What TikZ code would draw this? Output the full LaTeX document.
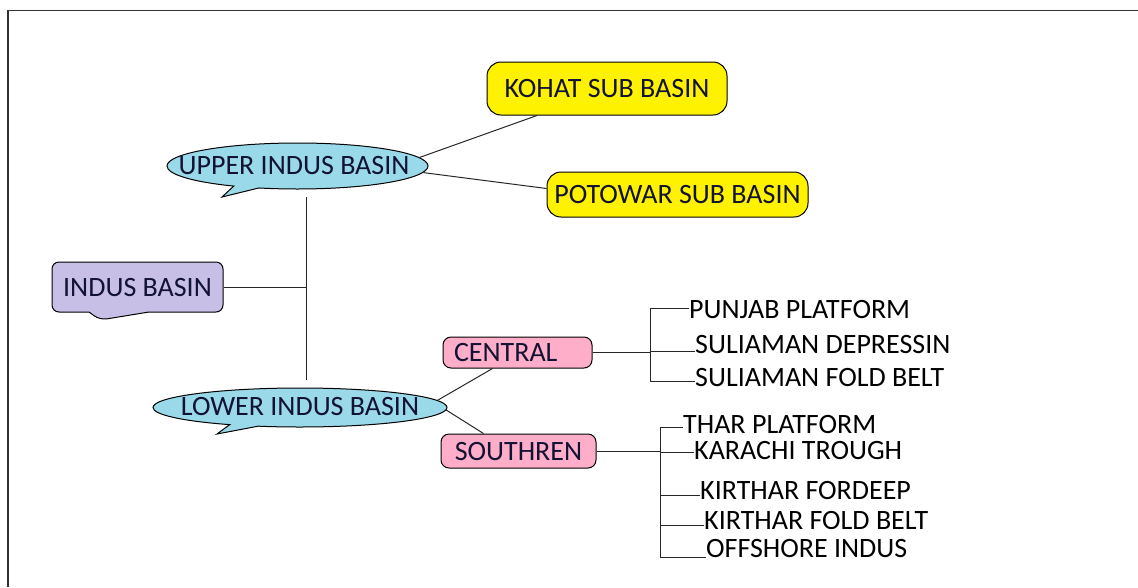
\documentclass[tikz,border=0pt]{standalone}
\usepackage{fontspec}
\setmainfont{Carlito}
\usetikzlibrary{shapes.callouts,calc}
\definecolor{subyellow}{HTML}{FFF200}
\definecolor{basinblue}{HTML}{99D9EA}
\definecolor{rootlilac}{HTML}{C8BFE7}
\definecolor{regionpink}{HTML}{FFAEC9}
\definecolor{boxtext}{RGB}{18,18,50}
\begin{document}
\begin{tikzpicture}[x=1pt,y=-1pt,
  every node/.style={font=\fontsize{28}{30}\selectfont, text height=18pt, text depth=0pt},
  outline/.style={draw=black, line width=1pt, text=boxtext, inner sep=0pt},
  subbox/.style={outline, fill=subyellow, rounded corners=14pt},
  regionbox/.style={outline, fill=regionpink, rounded corners=8pt},
  basincallout/.style={outline, ellipse callout, fill=basinblue, callout pointer arc=12},
  caption/.style={text=boxtext, inner sep=0pt},
  leaf/.style={anchor=west, inner sep=0pt, text=black},
  link/.style={line width=1pt, black!85}]
\useasboundingbox (0,0) rectangle (1138,587);
% frame
\draw[line width=1.5pt, black!80] (8,587) -- (8,10.5) -- (1138,10.5);

% root and basins
\node[outline, rectangle callout, fill=rootlilac, rounded corners=7pt,
      minimum width=171pt, minimum height=50pt,
      callout absolute pointer={(100,320)}, callout pointer width=60pt]
      (indus) at (137.5,287) {INDUS BASIN};
\node[basincallout, minimum width=261pt, minimum height=46pt,
      callout absolute pointer={(222,197)}]
      (upper) at (297.5,166) {};
\node[caption] (uppertext) at (294,165) {UPPER INDUS BASIN};
\node[basincallout, minimum width=294pt, minimum height=39pt,
      callout absolute pointer={(217,434)}]
      (lower) at (300,407.5) {};
\node[caption] (lowertext) at (300,406) {LOWER INDUS BASIN};

% sub basins
\node[subbox, minimum width=240pt, minimum height=53pt] (kohat) at (607,88.5) {KOHAT SUB BASIN};
\node[subbox, minimum width=261pt, minimum height=45pt] (potowar) at (677.5,194.5) {POTOWAR SUB BASIN};

% regions
\node[regionbox, minimum height=31pt, text width=127pt, align=left, inner xsep=11pt]
      (central) at (517.5,352.5) {CENTRAL};
\node[regionbox, minimum width=155pt, minimum height=34pt] (southren) at (518.5,451) {SOUTHREN};

% structural units
\node[leaf] (punjab)   at (689,309.5) {PUNJAB PLATFORM};
\node[leaf] (suldep)   at (695,344)   {SULIAMAN DEPRESSIN};
\node[leaf] (sulfold)  at (695,377)   {SULIAMAN FOLD BELT};
\node[leaf] (thar)     at (683,424)   {THAR PLATFORM};
\node[leaf] (karachi)  at (694,450.5) {KARACHI TROUGH};
\node[leaf] (kfordeep) at (700,490)   {KIRTHAR FORDEEP};
\node[leaf] (kfold)    at (704,520.5) {KIRTHAR FOLD BELT};
\node[leaf] (offshore) at (706,548.5) {OFFSHORE INDUS};

% trunk joining the basins
\coordinate (vtop) at (306,197);
\coordinate (vmid) at (306,287);
\coordinate (vbot) at (306,380);
\draw[link] (vtop) -- (vbot);
\draw[link] (indus.east) -- (vmid);

% upper basin links
\draw[link] (upper.4.3) -- ($(kohat.south)+(-70,0)$);
\draw[link] (upper.-3) -- ($(potowar.west)+(0,-6)$);

% lower basin links
\draw[link] (lower.3) -- ($(central.south)+(-25,0)$);
\draw[link] (lower.-1) -- ($(southren.north)+(-35,0)$);

% central branches
\coordinate (cbus) at (650,352.5);
\draw[link] (central.east) -- (cbus);
\draw[link] (cbus) |- ($(punjab.west)+(0,-1)$);
\draw[link] (cbus) |- ($(suldep.west)+(0,7)$);
\draw[link] (cbus) |- ($(sulfold.west)+(0,4)$);

% southern branches
\coordinate (sbus) at (660,451);
\draw[link] (southren.east) -- (sbus);
\draw[link] (sbus) |- ($(thar.west)+(0,3)$);
\draw[link] (sbus) |- ($(karachi.west)+(0,1.5)$);
\draw[link] (sbus) |- ($(kfordeep.west)+(0,5)$);
\draw[link] (sbus) |- ($(kfold.west)+(0,4.5)$);
\draw[link] (sbus) |- ($(offshore.west)+(0,8.5)$);
\end{tikzpicture}
\end{document}
